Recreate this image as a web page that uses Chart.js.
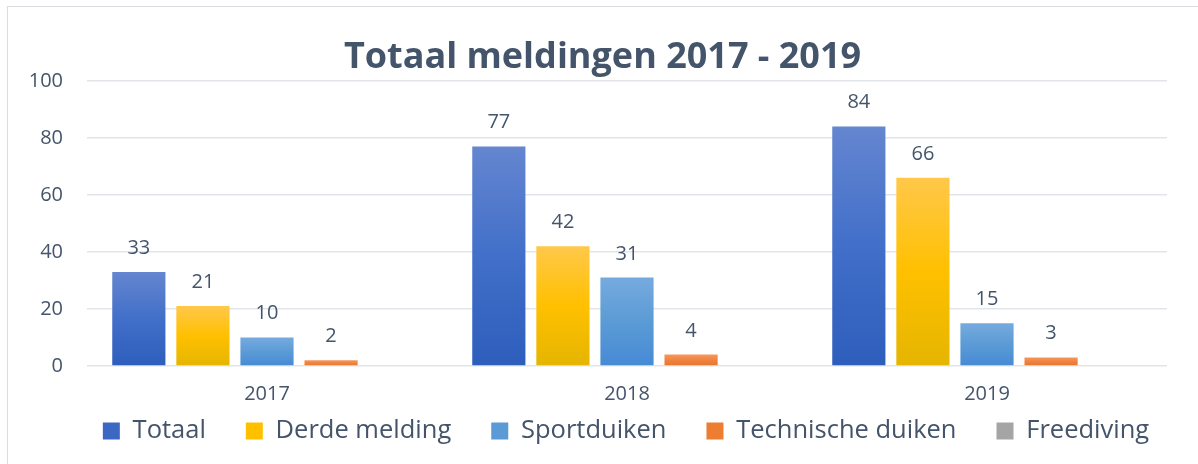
<!DOCTYPE html>
<html>
<head>
<meta charset="utf-8">
<script src="https://cdn.jsdelivr.net/npm/chart.js@4"></script>
<style>
  html, body { margin: 0; padding: 0; background: #fff; }
  canvas { display: block; }
</style>
</head>
<body>
<canvas id="chart" width="1198" height="464"></canvas>
<script>
// Data
const years = ['2017', '2018', '2019'];
const totaal = [33, 77, 84];
const derdeMelding = [21, 42, 66];
const sportduiken = [10, 31, 15];
const technischeDuiken = [2, 4, 3];
const freediving = [null, null, null];
const yTicks = [0, 20, 40, 60, 80, 100];

const textColor = '#44546A';
const fontFamily = "'Open Sans', sans-serif";
const legendPadding = 40;
const legendFontSize = 25.5;
const legendRowCenter = 431;

// Per-bar vertical gradient, lighter at the top
function barGradient(top, mid, bottom) {
    return context => {
        const chart = context.chart;
        const yScale = chart.scales.y;
        if (context.type !== 'data' || !yScale || context.raw == null) return mid;
        const y0 = yScale.getPixelForValue(context.raw);
        const y1 = yScale.getPixelForValue(0);
        if (!isFinite(y0) || !isFinite(y1) || y0 === y1) return mid;
        const g = chart.ctx.createLinearGradient(0, y0, 0, y1);
        g.addColorStop(0, top);
        g.addColorStop(0.5, mid);
        g.addColorStop(1, bottom);
        return g;
    };
}

// Value labels above the bars
const valueLabels = {
    id: 'valueLabels',
    afterDatasetsDraw(chart) {
        const ctx = chart.ctx;
        ctx.save();
        ctx.font = '20px ' + fontFamily;
        ctx.fillStyle = textColor;
        ctx.textAlign = 'center';
        ctx.textBaseline = 'alphabetic';
        chart.data.datasets.forEach((ds, i) => {
            const meta = chart.getDatasetMeta(i);
            meta.data.forEach((bar, j) => {
                const v = ds.data[j];
                if (v == null) return;
                ctx.fillText(String(v), bar.x, bar.y - 18);
            });
        });
        ctx.restore();
    }
};

// Light frame around the whole chart
const frame = {
    id: 'frame',
    beforeDraw(chart) {
        const ctx = chart.ctx;
        ctx.save();
        ctx.strokeStyle = '#d9dce0';
        ctx.lineWidth = 1;
        ctx.strokeRect(7.5, 6.5, chart.width + 10, chart.height + 10);
        ctx.restore();
    }
};

// Legend uses wide item spacing; pull its row up, shift it right, center the title on the frame
const layoutTweaks = {
    id: 'layoutTweaks',
    afterLayout(chart) {
        const lg = chart.legend;
        if (lg) {
            lg.top = legendRowCenter - legendFontSize / 2 - legendPadding;
            lg.bottom = chart.height;
            lg.height = lg.bottom - lg.top;
            lg.left = 54;
            lg.right = chart.width;
            lg.width = lg.right - lg.left;
        }
        const tb = chart.titleBlock;
        if (tb) {
            tb.left = 7;
            tb.right = chart.width;
            tb.width = tb.right - tb.left;
        }
    }
};

new Chart(document.getElementById('chart'), {
    type: 'bar',
    data: {
        labels: years,
        datasets: [
            { label: 'Totaal', data: totaal,
              backgroundColor: barGradient('#6586d0', '#416fc9', '#2e5ebc'), legendColor: '#3c68c4' },
            { label: 'Derde melding', data: derdeMelding,
              backgroundColor: barGradient('#ffc84a', '#ffc000', '#e5b500'), legendColor: '#ffc000' },
            { label: 'Sportduiken', data: sportduiken,
              backgroundColor: barGradient('#76aadf', '#5b9bd5', '#468ad5'), legendColor: '#5b9bd5' },
            { label: 'Technische duiken', data: technischeDuiken,
              backgroundColor: barGradient('#f5975c', '#ef8240', '#ec7428'), legendColor: '#ed7d31' },
            { label: 'Freediving', data: freediving,
              backgroundColor: barGradient('#b0b0b0', '#a0a0a0', '#8f8f8f'), legendColor: '#a5a5a5' }
        ]
    },
    options: {
        responsive: false,
        animation: false,
        categoryPercentage: 0.89,
        barPercentage: 0.83,
        layout: {
            padding: { left: 10, right: 31, top: 0, bottom: 0 }
        },
        plugins: {
            title: {
                display: true,
                text: 'Totaal meldingen 2017 - 2019',
                color: textColor,
                font: { family: fontFamily, size: 36, weight: 'bold' },
                padding: { top: 36, bottom: 1.6 }
            },
            legend: {
                position: 'bottom',
                maxHeight: 30,
                labels: {
                    color: textColor,
                    font: { family: fontFamily, size: legendFontSize },
                    boxWidth: 17,
                    boxHeight: 17,
                    padding: legendPadding,
                    generateLabels(chart) {
                        return chart.data.datasets.map((ds, i) => ({
                            text: ds.label,
                            fillStyle: ds.legendColor,
                            strokeStyle: ds.legendColor,
                            lineWidth: 0,
                            fontColor: textColor,
                            hidden: !chart.isDatasetVisible(i),
                            datasetIndex: i
                        }));
                    }
                }
            },
            tooltip: { enabled: false }
        },
        scales: {
            x: {
                grid: { display: false },
                border: { display: false },
                ticks: {
                    color: textColor,
                    font: { family: fontFamily, size: 20 },
                    padding: 8
                },
                afterFit(scale) {
                    scale.height = 464 - 30 - 366;
                }
            },
            y: {
                min: 0,
                max: 100,
                afterBuildTicks(scale) {
                    scale.ticks = yTicks.map(v => ({ value: v }));
                },
                grid: { color: '#e1e5ea', lineWidth: 1.5, drawTicks: false },
                border: { display: false },
                ticks: {
                    color: textColor,
                    font: { family: fontFamily, size: 20 },
                    padding: 24
                },
                afterFit(scale) {
                    scale.width = 77;
                }
            }
        }
    },
    plugins: [frame, valueLabels, layoutTweaks]
});
</script>
</body>
</html>
